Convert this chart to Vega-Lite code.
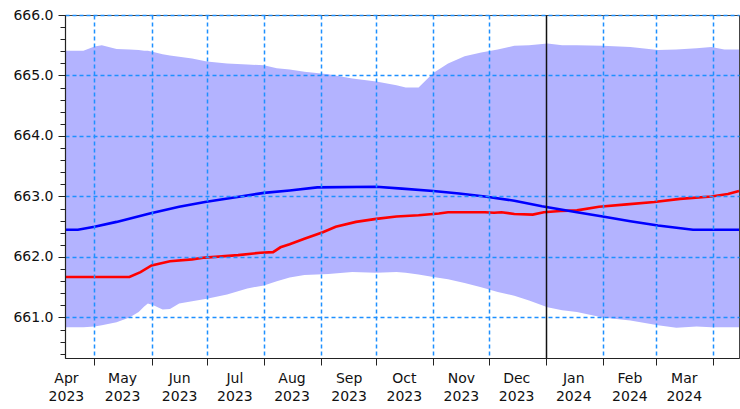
{
  "$schema": "https://vega.github.io/schema/vega-lite/v6.json",
  "width": 674,
  "height": 343,
  "autosize": "none",
  "padding": {"left": 65, "top": 15, "right": 1, "bottom": 51},
  "background": "white",
  "config": {
    "view": {"stroke": "#444", "strokeWidth": 1},
    "axis": {"labelFont": "DejaVu Sans", "labelFontSize": 14, "labelColor": "#111", "domainColor": "#222", "tickColor": "#222", "domainWidth": 1.2}
  },
  "datasets": {
    "band": [
      {"d": "2023-04-15", "lo": 660.84, "hi": 665.41},
      {"d": "2023-04-25", "lo": 660.84, "hi": 665.41},
      {"d": "2023-05-01", "lo": 660.85, "hi": 665.48},
      {"d": "2023-05-05", "lo": 660.87, "hi": 665.50},
      {"d": "2023-05-13", "lo": 660.92, "hi": 665.44},
      {"d": "2023-05-20", "lo": 661.00, "hi": 665.43},
      {"d": "2023-05-25", "lo": 661.09, "hi": 665.42},
      {"d": "2023-05-28", "lo": 661.18, "hi": 665.41},
      {"d": "2023-05-30", "lo": 661.23, "hi": 665.41},
      {"d": "2023-06-02", "lo": 661.20, "hi": 665.39},
      {"d": "2023-06-07", "lo": 661.13, "hi": 665.35},
      {"d": "2023-06-11", "lo": 661.14, "hi": 665.33},
      {"d": "2023-06-16", "lo": 661.23, "hi": 665.31},
      {"d": "2023-06-23", "lo": 661.27, "hi": 665.28},
      {"d": "2023-07-01", "lo": 661.31, "hi": 665.23},
      {"d": "2023-07-12", "lo": 661.38, "hi": 665.20},
      {"d": "2023-07-23", "lo": 661.48, "hi": 665.18},
      {"d": "2023-08-01", "lo": 661.53, "hi": 665.17},
      {"d": "2023-08-08", "lo": 661.60, "hi": 665.12},
      {"d": "2023-08-15", "lo": 661.66, "hi": 665.10},
      {"d": "2023-08-23", "lo": 661.70, "hi": 665.06},
      {"d": "2023-09-05", "lo": 661.72, "hi": 665.02},
      {"d": "2023-09-18", "lo": 661.75, "hi": 664.95},
      {"d": "2023-10-01", "lo": 661.74, "hi": 664.90},
      {"d": "2023-10-12", "lo": 661.75, "hi": 664.84},
      {"d": "2023-10-17", "lo": 661.74, "hi": 664.80},
      {"d": "2023-10-24", "lo": 661.71, "hi": 664.80},
      {"d": "2023-10-28", "lo": 661.69, "hi": 664.92},
      {"d": "2023-11-01", "lo": 661.67, "hi": 665.04},
      {"d": "2023-11-09", "lo": 661.63, "hi": 665.20},
      {"d": "2023-11-18", "lo": 661.57, "hi": 665.32},
      {"d": "2023-11-27", "lo": 661.50, "hi": 665.38},
      {"d": "2023-12-06", "lo": 661.42, "hi": 665.43},
      {"d": "2023-12-15", "lo": 661.36, "hi": 665.49},
      {"d": "2023-12-23", "lo": 661.28, "hi": 665.50},
      {"d": "2024-01-02", "lo": 661.17, "hi": 665.53},
      {"d": "2024-01-10", "lo": 661.12, "hi": 665.50},
      {"d": "2024-01-18", "lo": 661.09, "hi": 665.50},
      {"d": "2024-02-01", "lo": 661.00, "hi": 665.49},
      {"d": "2024-02-16", "lo": 660.95, "hi": 665.47},
      {"d": "2024-03-02", "lo": 660.87, "hi": 665.42},
      {"d": "2024-03-12", "lo": 660.83, "hi": 665.43},
      {"d": "2024-03-23", "lo": 660.85, "hi": 665.45},
      {"d": "2024-03-31", "lo": 660.84, "hi": 665.47},
      {"d": "2024-04-07", "lo": 660.84, "hi": 665.43},
      {"d": "2024-04-15", "lo": 660.84, "hi": 665.43}
    ],
    "red": [
      {"d": "2023-04-15", "v": 661.67},
      {"d": "2023-05-20", "v": 661.67},
      {"d": "2023-05-26", "v": 661.75},
      {"d": "2023-06-01", "v": 661.86},
      {"d": "2023-06-11", "v": 661.93},
      {"d": "2023-06-23", "v": 661.96},
      {"d": "2023-06-30", "v": 661.99},
      {"d": "2023-07-18", "v": 662.03},
      {"d": "2023-07-30", "v": 662.07},
      {"d": "2023-08-06", "v": 662.08},
      {"d": "2023-08-10", "v": 662.16},
      {"d": "2023-08-15", "v": 662.21},
      {"d": "2023-08-23", "v": 662.30},
      {"d": "2023-09-02", "v": 662.41},
      {"d": "2023-09-09", "v": 662.50},
      {"d": "2023-09-20", "v": 662.58},
      {"d": "2023-10-01", "v": 662.63},
      {"d": "2023-10-12", "v": 662.67},
      {"d": "2023-10-24", "v": 662.69},
      {"d": "2023-11-04", "v": 662.72},
      {"d": "2023-11-09", "v": 662.74},
      {"d": "2023-11-29", "v": 662.74},
      {"d": "2023-12-04", "v": 662.73},
      {"d": "2023-12-08", "v": 662.74},
      {"d": "2023-12-15", "v": 662.71},
      {"d": "2023-12-25", "v": 662.70},
      {"d": "2023-12-31", "v": 662.74},
      {"d": "2024-01-09", "v": 662.76},
      {"d": "2024-01-18", "v": 662.77},
      {"d": "2024-01-30", "v": 662.83},
      {"d": "2024-02-14", "v": 662.87},
      {"d": "2024-02-29", "v": 662.91},
      {"d": "2024-03-14", "v": 662.96},
      {"d": "2024-03-31", "v": 663.00},
      {"d": "2024-04-09", "v": 663.04},
      {"d": "2024-04-15", "v": 663.09}
    ],
    "blue": [
      {"d": "2023-04-15", "v": 662.45},
      {"d": "2023-04-22", "v": 662.45},
      {"d": "2023-05-01", "v": 662.50},
      {"d": "2023-05-13", "v": 662.58},
      {"d": "2023-05-31", "v": 662.72},
      {"d": "2023-06-16", "v": 662.83},
      {"d": "2023-06-30", "v": 662.91},
      {"d": "2023-07-15", "v": 662.98},
      {"d": "2023-08-01", "v": 663.06},
      {"d": "2023-08-15", "v": 663.10},
      {"d": "2023-08-30", "v": 663.15},
      {"d": "2023-10-01", "v": 663.16},
      {"d": "2023-10-15", "v": 663.13},
      {"d": "2023-11-01", "v": 663.09},
      {"d": "2023-11-15", "v": 663.05},
      {"d": "2023-11-29", "v": 663.00},
      {"d": "2023-12-15", "v": 662.93},
      {"d": "2023-12-30", "v": 662.84},
      {"d": "2024-01-18", "v": 662.74},
      {"d": "2024-02-01", "v": 662.67},
      {"d": "2024-02-16", "v": 662.59},
      {"d": "2024-03-02", "v": 662.52},
      {"d": "2024-03-21", "v": 662.45},
      {"d": "2024-04-15", "v": 662.45}
    ]
  },
  "encoding": {
    "x": {
      "field": "d",
      "type": "temporal",
      "title": null,
      "scale": {"domain": [{"year": 2023, "month": 4, "date": 15}, {"year": 2024, "month": 4, "date": 15}], "nice": false},
      "axis": {
        "zindex": 1,
        "tickCount": 200,
        "values": [
          {"year": 2023, "month": 4, "date": 15, "hours": 12},
          {"year": 2023, "month": 5, "date": 1},
          {"year": 2023, "month": 5, "date": 16},
          {"year": 2023, "month": 6, "date": 1},
          {"year": 2023, "month": 6, "date": 16},
          {"year": 2023, "month": 7, "date": 1},
          {"year": 2023, "month": 7, "date": 16},
          {"year": 2023, "month": 8, "date": 1},
          {"year": 2023, "month": 8, "date": 16},
          {"year": 2023, "month": 9, "date": 1},
          {"year": 2023, "month": 9, "date": 16},
          {"year": 2023, "month": 10, "date": 1},
          {"year": 2023, "month": 10, "date": 16},
          {"year": 2023, "month": 11, "date": 1},
          {"year": 2023, "month": 11, "date": 16},
          {"year": 2023, "month": 12, "date": 1},
          {"year": 2023, "month": 12, "date": 16},
          {"year": 2024, "month": 1, "date": 1},
          {"year": 2024, "month": 1, "date": 16},
          {"year": 2024, "month": 2, "date": 1},
          {"year": 2024, "month": 2, "date": 15, "hours": 12},
          {"year": 2024, "month": 3, "date": 1},
          {"year": 2024, "month": 3, "date": 16},
          {"year": 2024, "month": 4, "date": 1}
        ],
        "labelExpr": "date(datum.value) == 1 ? '' : [timeFormat(datum.value, '%b'), timeFormat(datum.value, '%Y')]",
        "labelOverlap": false,
        "labelFlush": false,
        "labelLineHeight": 18,
        "labelPadding": 6,
        "labelBaseline": "top",
        "tickSize": 7,
        "tickOpacity": {"condition": {"test": "date(datum.value) == 1", "value": 1}, "value": 0},
        "grid": true,
        "gridOpacity": {"condition": {"test": "date(datum.value) == 1", "value": 1}, "value": 0},
        "gridColor": {"condition": {"test": "month(datum.value) == 0 && date(datum.value) == 1", "value": "#111111"}, "value": "#1e90ff"},
        "gridDash": {"condition": {"test": "month(datum.value) == 0 && date(datum.value) == 1", "value": []}, "value": [4, 3]},
        "gridWidth": 1.5
      }
    }
  },
  "layer": [
    {
      "data": {"name": "band", "format": {"parse": {"d": "date:'%Y-%m-%d'"}}},
      "mark": {"type": "area", "color": "#b3b3ff", "opacity": 1},
      "encoding": {
        "y": {
          "field": "hi",
          "type": "quantitative",
          "title": null,
          "scale": {"domain": [660.33, 666.0], "nice": false, "zero": false},
          "axis": {
            "zindex": 1,
            "tickCount": 200,
            "values": [660.4, 660.6, 660.8, 661.0, 661.2, 661.4, 661.6, 661.8, 662.0, 662.2, 662.4, 662.6, 662.8, 663.0, 663.2, 663.4, 663.6, 663.8, 664.0, 664.2, 664.4, 664.6, 664.8, 665.0, 665.2, 665.4, 665.6, 665.8, 666.0],
            "labelExpr": "abs(datum.value - round(datum.value)) < 0.01 ? format(datum.value, '.1f') : ''",
            "labelOverlap": false,
            "labelFlush": false,
            "labelPadding": 5,
            "tickSize": {"condition": {"test": "abs(datum.value - round(datum.value)) < 0.01", "value": 7}, "value": 5},
            "grid": true,
            "gridOpacity": {"condition": {"test": "abs(datum.value - round(datum.value)) < 0.01", "value": 1}, "value": 0},
            "gridColor": "#1e90ff",
            "gridDash": [4, 3],
            "gridWidth": 1.5
          }
        },
        "y2": {"field": "lo"}
      }
    },
    {
      "data": {"name": "red", "format": {"parse": {"d": "date:'%Y-%m-%d'"}}},
      "mark": {"type": "line", "color": "#ff0000", "strokeWidth": 2.6},
      "encoding": {"y": {"field": "v", "type": "quantitative"}}
    },
    {
      "data": {"name": "blue", "format": {"parse": {"d": "date:'%Y-%m-%d'"}}},
      "mark": {"type": "line", "color": "#0000ff", "strokeWidth": 2.6},
      "encoding": {"y": {"field": "v", "type": "quantitative"}}
    }
  ]
}
